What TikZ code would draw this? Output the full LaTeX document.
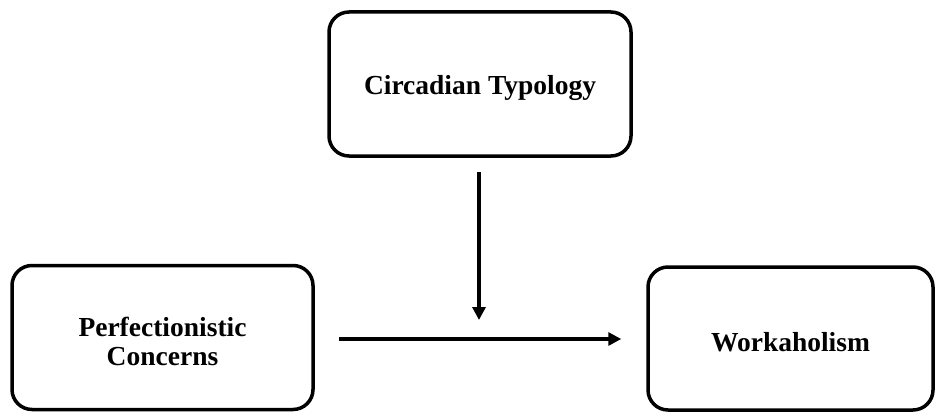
\documentclass[tikz,border=0pt]{standalone}
\usepackage{fontspec}
\setmainfont{Liberation Serif}
\usetikzlibrary{arrows.meta}
\begin{document}
\begin{tikzpicture}[x=1pt,y=-1pt,
  box/.style={draw=black, line width=3.5pt, rounded corners=20pt, inner sep=0pt},
  txt/.style={align=center, font=\fontsize{27.5}{29}\selectfont\bfseries, inner sep=0pt, yshift=-4pt},
  arr/.style={line width=3.5pt, -{Triangle[length=13pt,width=13pt]}}]
\useasboundingbox (0,0) rectangle (936,412);
\node[box, minimum width=302pt, minimum height=144pt,
  label={[txt]center:Circadian Typology}] (ct) at (480,84) {};
\node[box, minimum width=301pt, minimum height=144pt,
  label={[txt]center:Perfectionistic\\Concerns}] (pc) at (162.5,337.5) {};
\node[box, minimum width=285pt, minimum height=143pt,
  label={[txt]center:Workaholism}] (wk) at (790.5,338.5) {};
\coordinate (mid) at (479,320);
\draw[arr] (ct.south -| mid) ++(0,14) coordinate (vs) -- (mid);
\draw[arr] ([xshift=24pt,yshift=-1.5pt]pc.east) -- ([xshift=-25pt,yshift=-0.5pt]wk.west);
\end{tikzpicture}
\end{document}
